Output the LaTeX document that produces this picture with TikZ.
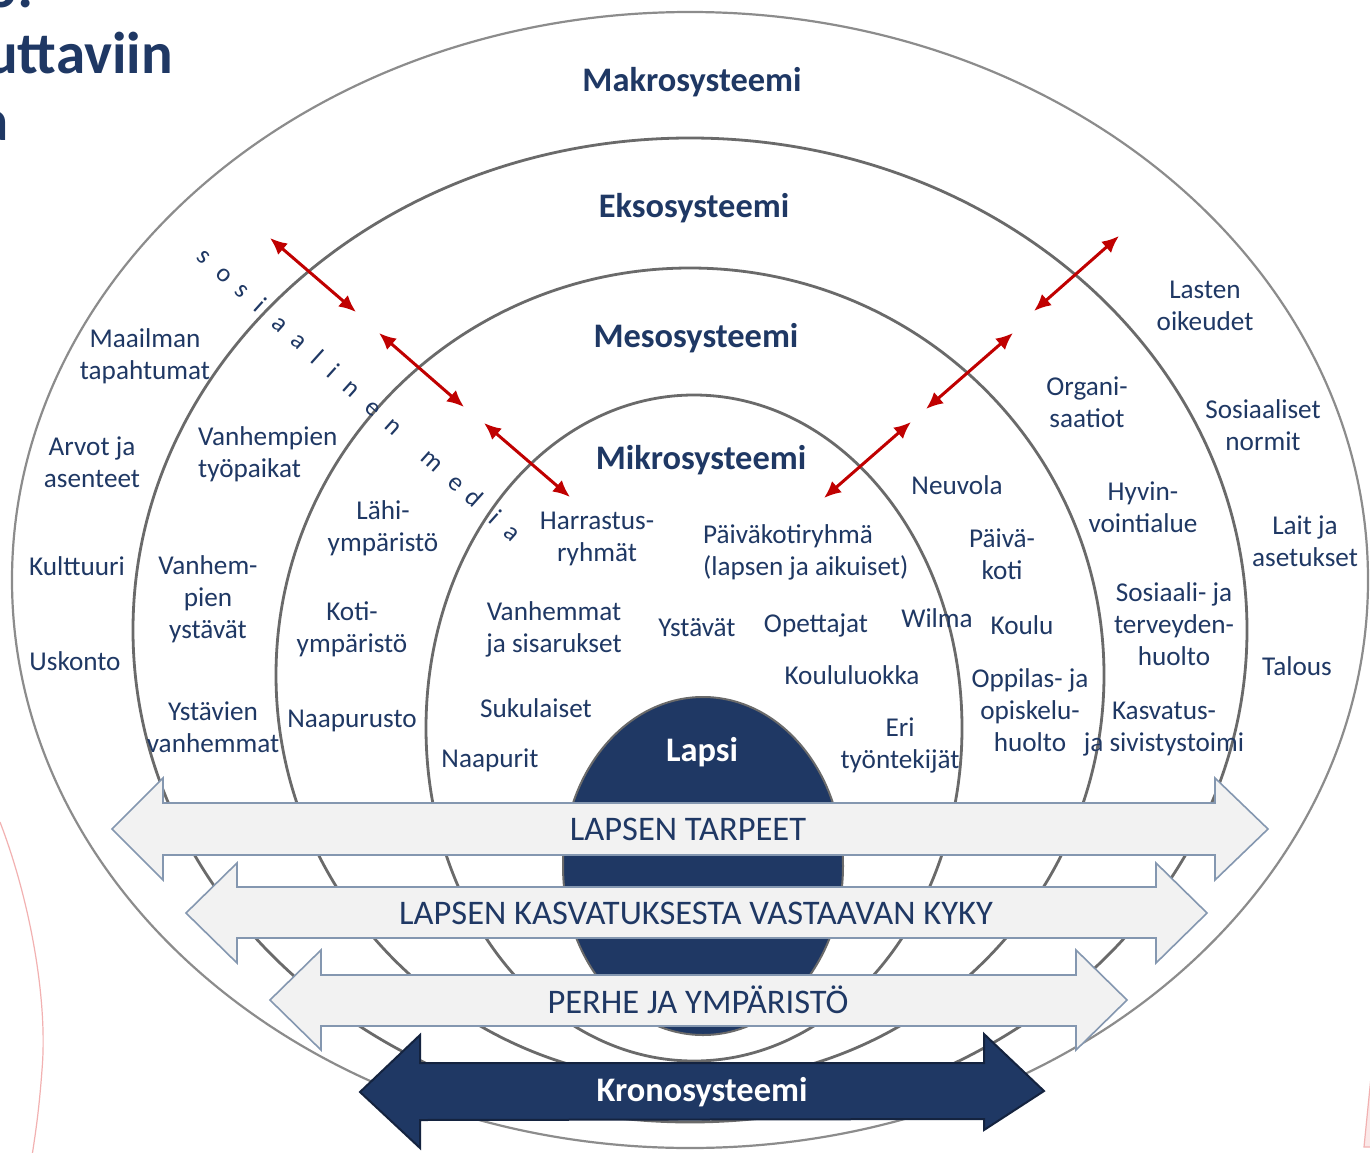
\documentclass[tikz,border=0pt]{standalone}
\usepackage{fontspec}
\setmainfont{Carlito}
\usetikzlibrary{arrows.meta}
\definecolor{navy}{HTML}{1F3864}
\definecolor{ring}{HTML}{6A6A6A}
\definecolor{ringout}{HTML}{8C8C8C}
\definecolor{redarr}{HTML}{C00000}
\definecolor{arrfill}{HTML}{F2F2F2}
\definecolor{arrline}{HTML}{8497B0}
\definecolor{darkedge}{HTML}{14233F}
\definecolor{pinkl}{HTML}{F2B1B1}
\begin{document}
\begin{tikzpicture}[x=1pt,y=-1pt,
  lbl/.style={text=navy, font=\fontsize{27.2}{32}\selectfont, align=center, inner sep=0pt},
  lblleft/.style={lbl, align=left, anchor=west},
  ttl/.style={text=navy, font=\fontsize{34.4}{40}\selectfont\bfseries, inner sep=0pt},
  arrtxt/.style={text=navy, font=\fontsize{34.5}{40}\selectfont, inner sep=0pt},
  titlef/.style={text=navy, font=\fontsize{59}{66}\selectfont\bfseries, inner sep=0pt},
  smletter/.style={text=navy, font=\fontsize{26}{30}\selectfont, rotate=-42, anchor=base, inner sep=0pt},
  redar/.style={draw=redarr, line width=3pt, {Latex[length=17pt,width=15pt]}-{Latex[length=17pt,width=15pt]}},
  ringst/.style={draw=ring, line width=2.8pt},
  lightarr/.style={fill=arrfill, draw=arrline, line width=1.6pt, line join=miter},
  darkarr/.style={fill=navy, draw=darkedge, line width=2pt, line join=miter}
]
\useasboundingbox (0,0) rectangle (1370,1153);
\clip (0,0) rectangle (1370,1153);
\fill[white] (0,0) rectangle (1370,1153);

% title fragments
\node[titlef, anchor=base east] (t1) at (34,8) {o:};
\node[titlef, anchor=base west] (t2) at (-14,74) {uttaviin};
\node[titlef, anchor=base east] (t3) at (9,140) {a};

% pink decorations
\draw[pinkl, line width=1.2pt] (0,822) .. controls (30,900) and (48,1000) .. (42,1070) .. controls (39,1110) and (36,1130) .. (32,1156);
\draw[pinkl, fill=pinkl!30, line width=1.2pt] (1371,1077) -- (1364,1147) -- (1371,1147);

% rings
\draw[draw=ringout, line width=2.2pt] (690,580) ellipse [x radius=678, y radius=568];
\draw[ringst] (690,630) ellipse [x radius=557, y radius=492];
\draw[ringst] (690,675) ellipse [x radius=414, y radius=407];
\draw[ringst] (694,728) ellipse [x radius=268, y radius=333];

% child
\draw[fill=navy, draw=ring, line width=2pt] (703,866) ellipse [x radius=140, y radius=169];
\node[ttl, text=white] (lapsi) at (702,752) {Lapsi};

% wide arrows
\draw[lightarr] (112,829) -- (163,778) -- (163,803) -- (1215,803) -- (1215,778) -- (1268,829) -- (1215,880) -- (1215,855) -- (163,855) -- (163,880) -- cycle;
\node[arrtxt] (tarpeet) at (688,829) {LAPSEN TARPEET};
\draw[lightarr] (186,913) -- (237,863) -- (237,887) -- (1156,887) -- (1156,863) -- (1207,913) -- (1156,963) -- (1156,938) -- (237,938) -- (237,963) -- cycle;
\node[arrtxt] (kyky) at (696,913) {LAPSEN KASVATUKSESTA VASTAAVAN KYKY};
\draw[lightarr] (270,1000) -- (321,950) -- (321,975) -- (1076,975) -- (1076,950) -- (1127,1000) -- (1076,1050) -- (1076,1026) -- (321,1026) -- (321,1050) -- cycle;
\node[arrtxt] (perhe) at (698,1000) {PERHE JA YMPÄRISTÖ};
\draw[darkarr] (360,1092) -- (420,1035) -- (420,1063) -- (984,1063) -- (984,1034) -- (1044,1091) -- (984,1130) -- (984,1119) -- (420,1120) -- (420,1148) -- cycle;
\node[ttl, text=white] (krono) at (702,1092) {Kronosysteemi};

% system titles
\node[ttl] (makro) at (692,82) {Makrosysteemi};
\node[ttl] (ekso) at (694,208) {Eksosysteemi};
\node[ttl] (meso) at (696,338) {Mesosysteemi};
\node[ttl] (mikro) at (701,460) {Mikrosysteemi};

% makro labels
\node[lbl] (maailman) at (145,356) {Maailman\\tapahtumat};
\node[lbl] (arvot) at (92,462) {Arvot ja\\asenteet};
\node[lbl] (kulttuuri) at (77,566) {Kulttuuri};
\node[lbl] (uskonto) at (75,661) {Uskonto};
\node[lbl] (lasten) at (1205,306) {Lasten\\oikeudet};
\node[lbl] (sosnorm) at (1263,425) {Sosiaaliset\\normit};
\node[lbl] (lait) at (1305,541) {Lait ja\\asetukset};
\node[lbl] (talous) at (1297,666) {Talous};

% ekso labels
\node[lblleft] (vtyo) at (198,454) {Vanhempien\\työpaikat};
\node[lbl] (vystavat) at (208,599) {Vanhem-\\pien\\ystävät};
\node[lbl] (yvanh) at (213,727) {Ystävien\\vanhemmat};
\node[lbl] (org) at (1087,402) {Organi-\\saatiot};
\node[lbl] (hyvin) at (1143,507) {Hyvin-\\vointialue};
\node[lbl] (soster) at (1174,624) {Sosiaali- ja\\terveyden-\\huolto};
\node[lbl] (kasv) at (1164,729) {Kasvatus-\\ja sivistystoimi};

% meso labels
\node[lbl] (lahi) at (383,528) {Lähi-\\ympäristö};
\node[lbl] (koti) at (352,629) {Koti-\\ympäristö};
\node[lbl] (naapurusto) at (352,721) {Naapurusto};
\node[lbl] (neuvola) at (957,485) {Neuvola};
\node[lbl] (pkoti) at (1002,554) {Päivä-\\koti};
\node[lbl] (koulu) at (1022,625) {Koulu};
\node[lbl] (oppilas) at (1030,710) {Oppilas- ja\\opiskelu-\\huolto};

% mikro labels
\node[lbl] (harr) at (597,539) {Harrastus-\\ryhmät};
\node[lblleft] (pkr) at (703,552) {Päiväkotiryhmä\\(lapsen ja aikuiset)};
\node[lbl] (vanhsis) at (554,629) {Vanhemmat\\ja sisarukset};
\node[lbl] (ystavat) at (697,628) {Ystävät};
\node[lbl] (opett) at (816,625) {Opettajat};
\node[lbl] (wilma) at (937,618) {Wilma};
\node[lbl] (kluokka) at (852,675) {Koululuokka};
\node[lbl] (suku) at (536,708) {Sukulaiset};
\node[lbl] (naapurit) at (490,760) {Naapurit};
\node[lbl] (eri) at (900,745) {Eri\\työntekijät};

% sosiaalinen media
\begin{scope}[shift={(203,257)}, rotate=-42]
\node[smletter] (sm1) at (0,6) {s};
\node[smletter] (sm2) at (27.5,6) {o};
\node[smletter] (sm3) at (50.9,6) {s};
\node[smletter] (sm4) at (75,6) {i};
\node[smletter] (sm5) at (101.8,6) {a};
\node[smletter] (sm6) at (127.5,6) {a};
\node[smletter] (sm7) at (152.3,6) {l};
\node[smletter] (sm8) at (173.5,6) {i};
\node[smletter] (sm9) at (198.2,6) {n};
\node[smletter] (sm10) at (228,6) {e};
\node[smletter] (sm11) at (255.6,6) {n};
\node[smletter] (sm12) at (306.7,6) {m};
\node[smletter] (sm13) at (339.9,6) {e};
\node[smletter] (sm14) at (363.2,6) {d};
\node[smletter] (sm15) at (391,6) {i};
\node[smletter] (sm16) at (414.9,6) {a};
\end{scope}

% red double arrows
\coordinate (l1a) at (270,238); \coordinate (l1b) at (356,312);
\coordinate (l2a) at (379,333); \coordinate (l2b) at (464,407);
\coordinate (l3a) at (484,423); \coordinate (l3b) at (570,497);
\coordinate (r1a) at (1119,236); \coordinate (r1b) at (1034,311);
\coordinate (r2a) at (1013,333); \coordinate (r2b) at (926,409);
\coordinate (r3a) at (911,422); \coordinate (r3b) at (824,498);
\draw[redar] (l1a) -- (l1b);
\draw[redar] (l2a) -- (l2b);
\draw[redar] (l3a) -- (l3b);
\draw[redar] (r1a) -- (r1b);
\draw[redar] (r2a) -- (r2b);
\draw[redar] (r3a) -- (r3b);
\end{tikzpicture}
\end{document}
